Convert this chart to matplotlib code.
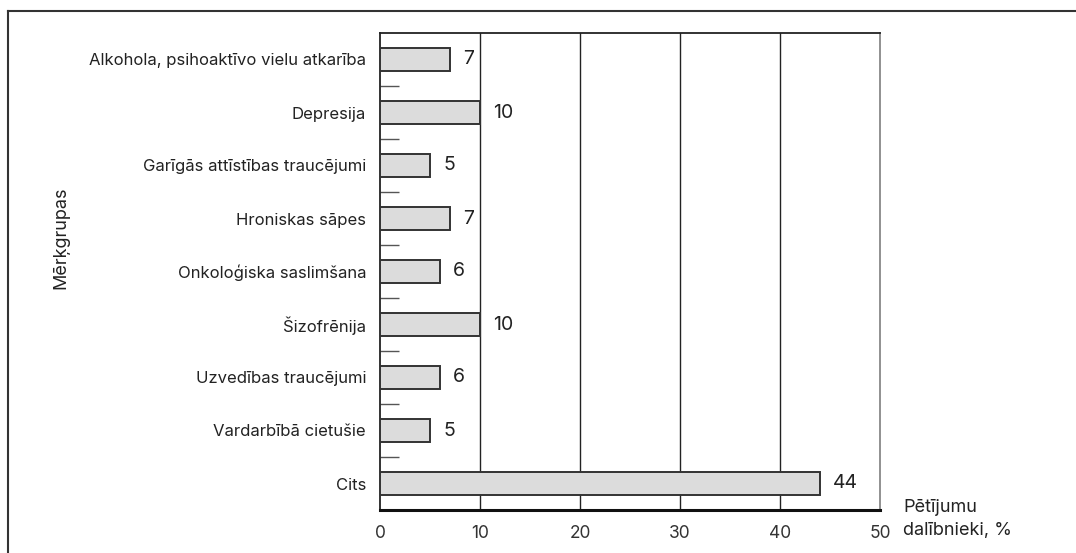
import matplotlib
matplotlib.use("Agg")
import matplotlib.pyplot as plt
from matplotlib.lines import Line2D

plt.rcParams['font.family'] = ['Inter', 'DejaVu Sans']

categories = [
    "Alkohola, psihoaktīvo vielu atkarība",
    "Depresija",
    "Garīgās attīstības traucējumi",
    "Hroniskas sāpes",
    "Onkoloģiska saslimšana",
    "Šizofrēnija",
    "Uzvedības traucējumi",
    "Vardarbībā cietušie",
    "Cits",
]
values = [7, 10, 5, 7, 6, 10, 6, 5, 44]
x_ticks = [0, 10, 20, 30, 40, 50]

W, H = 1076, 553
fig = plt.figure(figsize=(W / 100, H / 100), dpi=100)
ax = fig.add_axes([380 / W, 43 / H, 500 / W, 477 / H])

pos = list(range(len(categories)))
ax.barh(pos, values, height=0.43, color="#dcdcdc", edgecolor="#333333",
        linewidth=1.4, zorder=3)

for p, v in zip(pos, values):
    ax.text(v + 1.3, p, str(v), va="center", ha="left", fontsize=14,
            color="#222222", zorder=4,
            bbox=dict(facecolor="white", edgecolor="none", pad=1.5))

ax.set_xlim(0, 50)
ax.set_ylim(len(categories) - 0.5, -0.5)
ax.set_xticks(x_ticks)
ax.set_xticklabels([str(t) for t in x_ticks], fontsize=12.5, color="#333333")
ax.set_yticks(pos)
ax.set_yticklabels(categories, fontsize=12, color="#222222")
ax.tick_params(axis="y", length=0, pad=10)
ax.tick_params(axis="x", length=0, pad=11)

# short inward separators between categories
ax.set_yticks([p + 0.5 for p in pos[:-1]], minor=True)
ax.tick_params(axis="y", which="minor", direction="in", length=14,
               width=1, color="#555555")

for t in x_ticks[1:-1]:
    ax.axvline(t, color="#222222", linewidth=1.0, zorder=1)

ax.spines["left"].set_color("#222222")
ax.spines["left"].set_linewidth(1.3)
ax.spines["top"].set_color("#222222")
ax.spines["top"].set_linewidth(1.3)
ax.spines["right"].set_color("#888888")
ax.spines["right"].set_linewidth(1.3)
ax.spines["bottom"].set_color("#111111")
ax.spines["bottom"].set_linewidth(2.2)

fig.text(61 / W, 1 - 238 / H, "Mērķgrupas", rotation=90,
         ha="center", va="center", fontsize=13, color="#222222")

fig.text(903 / W, 1 - 519 / H, "Pētījumu\ndalībnieki, %",
         ha="left", va="center", fontsize=13, color="#222222", linespacing=1.4)

# outer frame: top and left edges
fig.add_artist(Line2D([8 / W, 1.0], [1 - 11 / H, 1 - 11 / H],
                      transform=fig.transFigure, color="#333333", linewidth=1.5))
fig.add_artist(Line2D([8 / W, 8 / W], [0, 1 - 11 / H],
                      transform=fig.transFigure, color="#333333", linewidth=1.5))

fig.savefig("out.png", dpi=100, facecolor="white")
